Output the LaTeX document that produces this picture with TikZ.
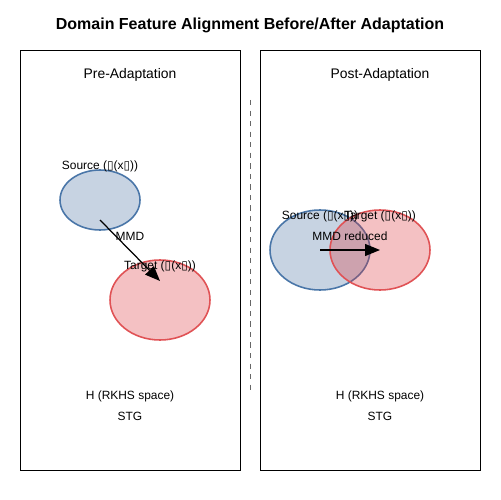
\documentclass[tikz,border=0pt]{standalone}
\usepackage{fontspec}
\setmainfont{Liberation Sans}
\newfontfamily\boxfont{DejaVu Sans}
\usepackage{tikz}
\usetikzlibrary{shapes.geometric, arrows.meta}
\definecolor{srcedge}{RGB}{74,118,168}
\definecolor{srcfill}{RGB}{70,110,160}
\definecolor{tgtedge}{RGB}{224,82,85}
\definecolor{tgtfill}{RGB}{220,50,55}
\tikzstyle{panel} = [rectangle, draw=black, thin]
\tikzstyle{src} = [ellipse, inner sep=0pt, draw=srcedge, fill=srcfill, fill opacity=0.3, draw opacity=1, line width=0.9pt]
\tikzstyle{tgt} = [ellipse, inner sep=0pt, draw=tgtedge, fill=tgtfill, fill opacity=0.3, draw opacity=1, line width=0.9pt]
\tikzstyle{lbl} = [inner sep=0pt, font=\fontsize{6.8}{8}\selectfont]
\tikzstyle{head} = [inner sep=0pt, font=\fontsize{7.9}{9}\selectfont]
\tikzstyle{arrow} = [line width=0.7pt, -{Triangle[length=0.3cm, width=0.24cm]}]
\newcommand{\tofu}{{\boxfont ▯}}

\begin{document}
\begin{tikzpicture}[x=0.02cm, y=-0.02cm]
\useasboundingbox (0,0) rectangle (500,500);

\node (title) [inner sep=0pt, font=\fontsize{9.1}{10}\selectfont\bfseries] at (250,25) {Domain Feature Alignment Before/After Adaptation};

% panels
\draw [panel] (20,50) rectangle (240,470);
\draw [panel] (260,50) rectangle (480,470);
\draw [dashed, gray!80!black] (250,100) -- (250,395);

\node (pre) [head] at (130,75) {Pre-Adaptation};
\node (post) [head] at (380,75) {Post-Adaptation};

% before
\node (s1) [src, minimum width=1.6cm, minimum height=1.2cm] at (100,200) {};
\node (t1) [tgt, minimum width=2cm, minimum height=1.6cm] at (160,300) {};
\coordinate (a1) at (100,220);
\coordinate (b1) at (160,281);
\draw [arrow] (a1) -- (b1);
\node (s1l) [lbl] at (100,166) {Source (\tofu(x\tofu))};
\node (t1l) [lbl] at (160,266) {Target (\tofu(x\tofu))};
\node (mmd1) [lbl] at (130,236) {MMD};

% after
\node (s2) [src, minimum width=2cm, minimum height=1.6cm] at (320,250) {};
\node (t2) [tgt, minimum width=2cm, minimum height=1.6cm] at (380,250) {};
\draw [arrow] (s2.center) -- (t2.center);
\node (s2l) [lbl] at (320,216) {Source (\tofu(x\tofu))};
\node (t2l) [lbl] at (380,216) {Target (\tofu(x\tofu))};
\node (mmd2) [lbl] at (350,236) {MMD reduced};

\node (h1) [lbl] at (130,396) {H (RKHS space)};
\node (g1) [lbl] at (130,416) {STG};
\node (h2) [lbl] at (380,396) {H (RKHS space)};
\node (g2) [lbl] at (380,416) {STG};
\end{tikzpicture}
\end{document}
